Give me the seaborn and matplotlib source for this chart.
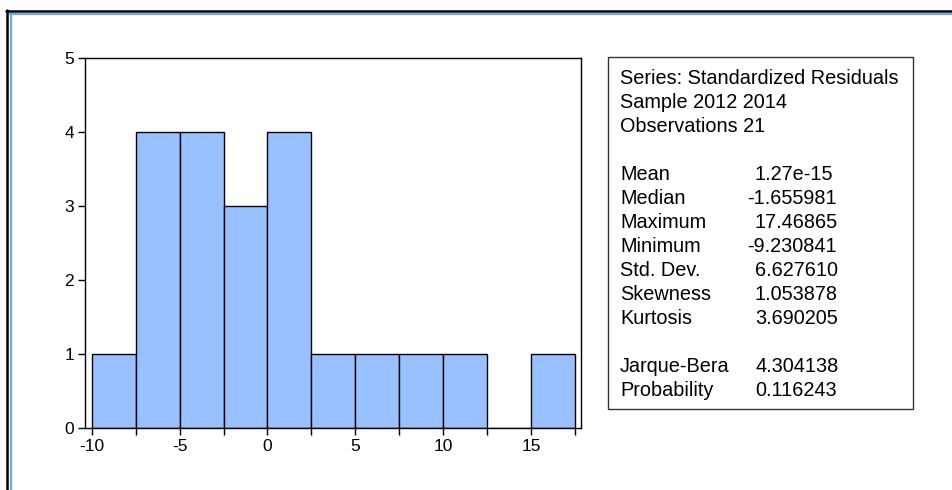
import numpy as np
import pandas as pd
import matplotlib
matplotlib.use('Agg')
import matplotlib.pyplot as plt
from matplotlib.lines import Line2D
from matplotlib.patches import Rectangle
import seaborn as sns

# histogram of standardized residuals (counts per 2.5-wide bin)
bin_edges = [-10, -7.5, -5, -2.5, 0, 2.5, 5, 7.5, 10, 12.5, 15, 17.5]
counts = [1, 4, 4, 3, 4, 1, 1, 1, 1, 0, 1]
x_ticks = [-10, -5, 0, 5, 10, 15]
y_ticks = [0, 1, 2, 3, 4, 5]

header_lines = ['Series: Standardized Residuals', 'Sample 2012 2014', 'Observations 21']
stat_names = ['Mean', 'Median', 'Maximum', 'Minimum', 'Std. Dev.', 'Skewness', 'Kurtosis']
stat_values = ['1.27e-15', '-1.655981', '17.46865', '-9.230841', '6.627610', '1.053878', '3.690205']
test_names = ['Jarque-Bera', 'Probability']
test_values = ['4.304138', '0.116243']

sns.set_theme(style='ticks')
plt.rcParams['font.family'] = ['Liberation Sans', 'DejaVu Sans']
plt.rcParams['axes.unicode_minus'] = False

W, H = 952, 490
fig = plt.figure(figsize=(W / 100, H / 100), dpi=100)
fig.patch.set_facecolor('white')

def px(x, y):
    return x / W, 1 - y / H

ax = fig.add_axes([85 / W, 1 - 428 / H, (581 - 85) / W, (428 - 58) / H])

centers = [(a + b) / 2 for a, b in zip(bin_edges[:-1], bin_edges[1:])]
df = pd.DataFrame({'mid': centers, 'count': counts})
sns.histplot(data=df, x='mid', weights='count', bins=bin_edges, color='#99c0ff',
             edgecolor='black', linewidth=1, alpha=1, ax=ax)

ax.set_xlim(-10.39, 17.85)
ax.set_ylim(0, 5)
ax.set_xticks(x_ticks)
ax.set_xticks(bin_edges, minor=True)
ax.set_yticks(y_ticks)
ax.set_xlabel('')
ax.set_ylabel('')
for s in ax.spines.values():
    s.set_color('black')
    s.set_linewidth(1)
    s.set_visible(True)
ax.tick_params(axis='both', which='both', direction='out', length=5, width=1,
               color='black', labelsize=12.5, labelcolor='black', pad=3)
ax.tick_params(axis='x', which='minor', length=5)

# statistics box
fig.patches.append(Rectangle(px(608, 409), (913 - 608) / W, (409 - 57) / H,
                             transform=fig.transFigure, fill=False,
                             edgecolor='#333333', linewidth=1))
fs = 14.3
y = 78
for line in header_lines:
    fig.text(*px(620, y), line, fontsize=fs, va='center', ha='left', color='black')
    y += 24
y += 24
for name, val in zip(stat_names, stat_values):
    fig.text(*px(620, y), name, fontsize=fs, va='center', ha='left', color='black')
    vx = 747 if val.startswith('-') else 755
    fig.text(*px(vx, y), val, fontsize=fs, va='center', ha='left', color='black')
    y += 24
y += 24
for name, val in zip(test_names, test_values):
    fig.text(*px(620, y), name, fontsize=fs, va='center', ha='left', color='black')
    fig.text(*px(755, y), val, fontsize=fs, va='center', ha='left', color='black')
    y += 24

# window frame (black outer line, blue inner line)
fig.lines.append(Line2D([6 / W, 1], [1 - 11 / H] * 2, transform=fig.transFigure, color='black', lw=1.8))
fig.lines.append(Line2D([6.8 / W] * 2, [1 - 10 / H, 0], transform=fig.transFigure, color='black', lw=1.8))
fig.lines.append(Line2D([10 / W, 1], [1 - 14 / H] * 2, transform=fig.transFigure, color='#6fa8e0', lw=1.6))
fig.lines.append(Line2D([10.5 / W] * 2, [1 - 14 / H, 0], transform=fig.transFigure, color='#6fa8e0', lw=1.6))

fig.savefig('out.png', dpi=100)
